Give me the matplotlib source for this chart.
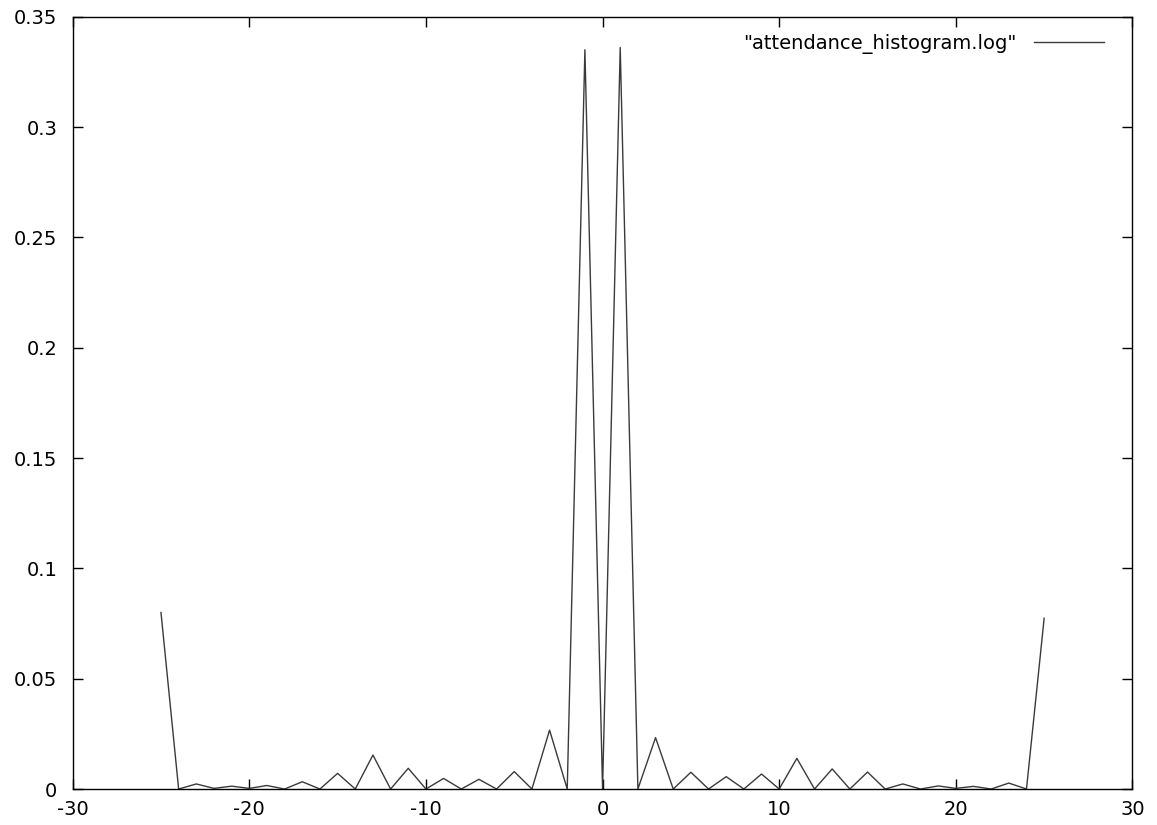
import matplotlib
matplotlib.use("Agg")
import matplotlib.pyplot as plt
from matplotlib.ticker import MultipleLocator, FuncFormatter

plt.rcParams['font.family'] = ['DejaVu Sans']
plt.rcParams['axes.unicode_minus'] = False

x_values = list(range(-25, 26))
y_values = [
    0.080, 0.0, 0.0023, 0.0003, 0.0013, 0.0003, 0.0016, 0.0, 0.0033, 0.0,
    0.0071, 0.0, 0.0154, 0.0, 0.0094, 0.0, 0.0048, 0.0, 0.0044, 0.0,
    0.0079, 0.0, 0.0267, 0.0, 0.335, 0.0, 0.336, 0.0, 0.0233, 0.0,
    0.0076, 0.0, 0.0056, 0.0, 0.0068, 0.0, 0.0139, 0.0, 0.0091, 0.0,
    0.0077, 0.0, 0.0023, 0.0, 0.0014, 0.0003, 0.0012, 0.0, 0.0027, 0.0,
    0.0774,
]
series_label = '"attendance_histogram.log"'

fig = plt.figure(figsize=(11.57, 8.25), dpi=100)
ax = fig.add_axes([0.0628, 0.0436, 0.9788 - 0.0628, 0.9798 - 0.0436])

ax.plot(x_values, y_values, color='#3a3a3a', linewidth=1.0, label=series_label)

ax.set_xlim(-30, 30)
ax.set_ylim(0, 0.35)
ax.xaxis.set_major_locator(MultipleLocator(10))
ax.yaxis.set_major_locator(MultipleLocator(0.05))
ax.yaxis.set_major_formatter(FuncFormatter(lambda v, p: f"{v:g}" if abs(v) > 1e-12 else "0"))

ax.tick_params(axis='both', direction='in', length=7, width=1, labelsize=14,
               top=True, right=True, color='black')
ax.tick_params(axis='x', pad=8)
ax.tick_params(axis='y', pad=11)
for s in ax.spines.values():
    s.set_linewidth(1.0)
    s.set_color('black')

leg = ax.legend(loc='upper right', frameon=False, markerfirst=False,
                handlelength=3.6, handletextpad=0.9, fontsize=14, borderaxespad=0.5,
                bbox_to_anchor=(0.99, 1.0))

fig.savefig('out.png', dpi=100, facecolor='white')
